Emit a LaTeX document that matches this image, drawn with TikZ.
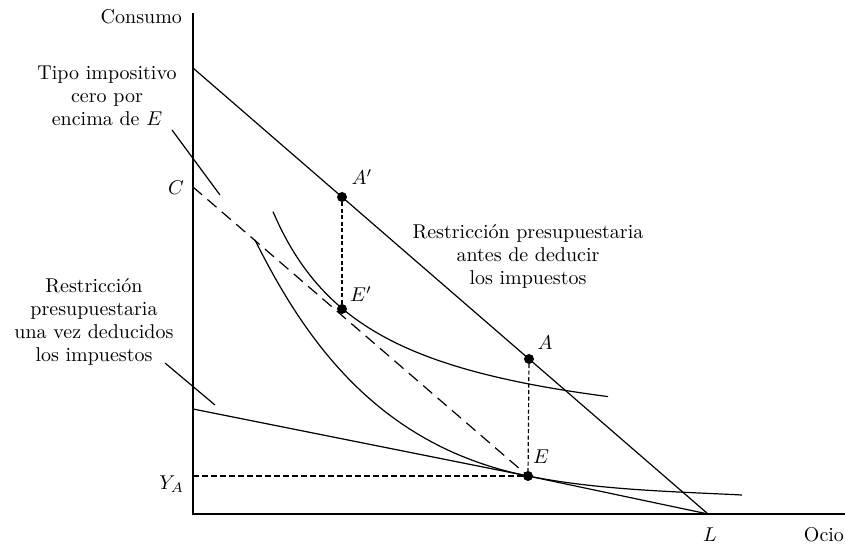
\documentclass[tikz,border=0pt]{standalone}
\begin{document}
\begin{tikzpicture}[x=1pt,y=1pt]

\tikzset{axis/.style={line width=1.2pt},
  curve/.style={line width=1.2pt},
  aux/.style={line width=1.2pt,dash pattern=on 4pt off 2.5pt},
  dot/.style={circle,fill=black,inner sep=0pt,minimum size=10pt},
  lbl/.style={font=\fontsize{10}{11.5}\selectfont,scale=2,transform shape},
  txt/.style={lbl,align=center}}

\useasboundingbox (-193,-34) rectangle (652,514);

\coordinate (O) at (0,0);
\coordinate (Ytop) at (0,501);
\coordinate (Xend) at (652,0);
\coordinate (P0) at (0,446);
\coordinate (L) at (515,0);
\coordinate (C) at (0,327);
\coordinate (T0) at (0,105);
\coordinate (YA) at (0,38);

\draw[axis] (Ytop) -- (O) -- (Xend);

\draw[curve] (P0) -- (L);
\draw[curve] (T0) -- (335,38) -- (L);
\draw[curve,dash pattern=on 12pt off 7pt] (C) -- (335,38);
\draw[curve,dash pattern=on 6pt off 3pt] (YA) -- (335,38);

\draw[curve] plot[domain=80:415,smooth,samples=60] (\x,{60+252/((\x+24)/100)});
\draw[curve] (62,274) .. controls (112,174) and (185,68) .. (335,38)
  .. controls (405,24) and (479,22.5) .. (549,19);

\node[dot] (Ap) at (149,317) {};
\node[dot] (Ep) at (149,205) {};
\node[dot] (A) at (336,155) {};
\node[dot] (E) at (335,38) {};

\draw[aux] (Ap) -- (Ep);
\draw[aux] (A) -- (E);

\coordinate (t1) at (-21,384);
\coordinate (t2) at (27,319);
\coordinate (r1) at (-28,151);
\coordinate (r2) at (22,109);
\draw[curve] (t1) -- (t2);
\draw[curve] (r1) -- (r2);

\path (-4,497) node[lbl,anchor=east] (consumo) {Consumo};
\path (-86,418) node[txt] (tipo) {Tipo impositivo\\cero por\\encima de $E$};
\path (-2,326) node[lbl,anchor=east] (lc) {$C$};
\path (-99,192) node[txt] (despues) {Restricci\'on\\presupuestaria\\una vez deducidos\\los impuestos};
\path (-2,30) node[lbl,anchor=east] (ly) {$Y_A$};
\path (335,258) node[txt] (antes) {Restricci\'on presupuestaria\\antes de deducir\\los impuestos};

\path (Ap) ++(20,20) node[lbl] {$A'$};
\path (Ep) ++(19,15) node[lbl] {$E'$};
\path (A) ++(16,16) node[lbl] {$A$};
\path (E) ++(13,19) node[lbl] {$E$};
\path (L) ++(2,-21) node[lbl] {$L$};
\path (658,-21) node[lbl,anchor=east] {Ocio};

\end{tikzpicture}
\end{document}
